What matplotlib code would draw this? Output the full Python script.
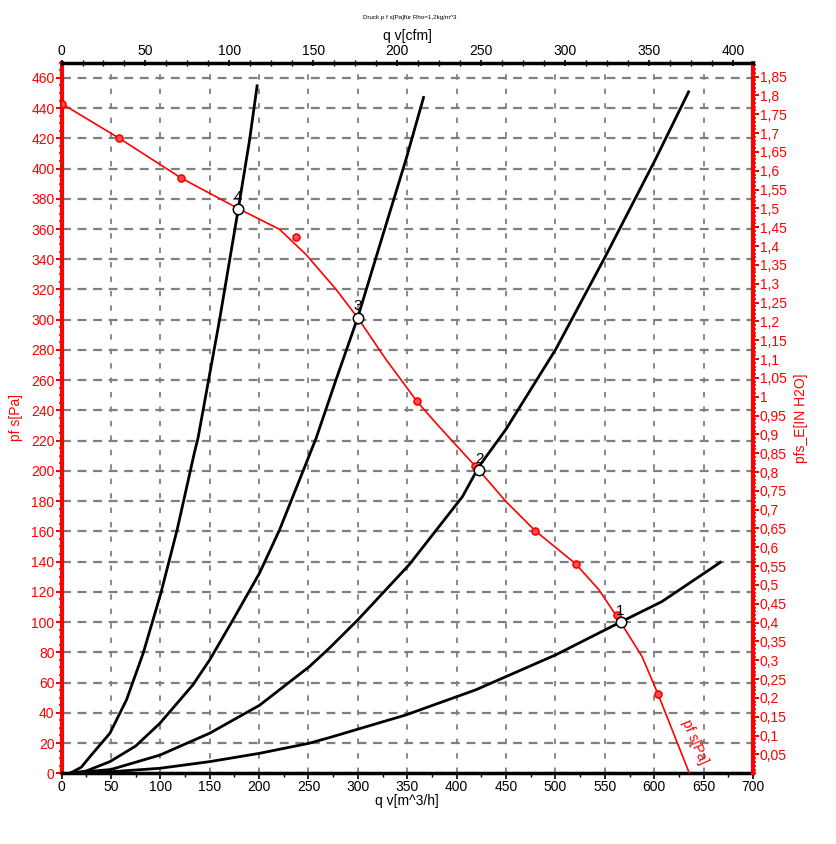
import numpy as np
import matplotlib.pyplot as plt
from matplotlib.ticker import MultipleLocator, FuncFormatter

plt.rcParams['font.family'] = ['Liberation Sans', 'DejaVu Sans']

# fan curve p_fs [Pa] over q_v [m^3/h] (line as drawn)
fan_q = [0, 58.5, 121.4, 179, 220.7, 247.7, 278, 299.8, 328.5, 359.8, 382,
         422.7, 449.7, 479.3, 520.4, 544, 565.9, 587.7, 603.9, 635.6]
fan_p = [443, 420, 393.6, 373.5, 359.8, 343, 320, 301.3, 273.7, 246, 229.5,
         200.4, 179.9, 160.5, 138.6, 121.4, 100, 77.2, 52.3, 0]

# measured points on the fan curve
meas_q = [0, 58.5, 121.4, 237.6, 359.8, 418.7, 479.3, 520.4, 562.4, 603.9]
meas_p = [443, 420, 393.6, 354.7, 246, 203, 160.5, 138.6, 104.8, 52.3]

# system curves
sys4_q = [8.6, 20, 28.8, 49, 65.8, 82.7, 100.5, 117, 134.5, 138.2, 160, 179, 190.4, 198]
sys4_p = [0, 4, 11, 26.5, 48.6, 79.5, 119, 161, 212, 221.8, 300, 373.5, 419, 454.7]
sys3_q = [8.6, 25, 49, 75, 99.5, 133, 150, 173.6, 200.5, 220.7, 247.6, 257.8, 278, 299.8,
          325, 348.7, 366.5]
sys3_p = [0, 1.5, 7.7, 18, 33, 58.5, 75, 101.5, 132.5, 161, 205, 221.8, 260.5, 301.3,
          355.4, 406, 447]
sys2_q = [8.6, 50, 99.5, 150, 200.5, 251, 271.2, 300, 352, 405.9, 422.7, 449.7, 500.2,
          550.7, 601.2, 634.8]
sys2_p = [0, 2.5, 12, 26.5, 45, 70.6, 82.8, 101.5, 138, 183, 203, 227.3, 280.3,
          342, 406, 450.7]
sys1_q = [10, 50, 99.5, 150, 200.5, 251, 271.2, 348.7, 419.4, 500.2, 565.9, 607.9, 666.9]
sys1_p = [0, 1, 3.3, 7.7, 13.2, 19.9, 23.6, 38.6, 55.2, 78.3, 100, 113.6, 139.5]

# operating points
op_q = [565.9, 422.7, 299.8, 179]
op_p = [100, 200.4, 301.3, 373.5]
op_lbl = ['1', '2', '3', '4']

CFM = 1.699
INH2O = 249.089

fig = plt.figure(figsize=(8.36, 8.44), dpi=100)
ax = fig.add_axes([0.0736, 0.0838, 0.9007 - 0.0736, 0.9257 - 0.0838])
ax.set_xlim(0, 700)
ax.set_ylim(0, 470)

ax.xaxis.set_major_locator(MultipleLocator(50))
ax.xaxis.set_minor_locator(MultipleLocator(25))
ax.yaxis.set_major_locator(MultipleLocator(20))
ax.yaxis.set_minor_locator(MultipleLocator(5))
ax.grid(True, which='major', axis='y', color='#7f7f7f', lw=1.6, ls=(0, (4, 3)))
ax.grid(True, which='major', axis='x', color='#7f7f7f', lw=1.3, ls=(0, (3, 5)))
ax.set_axisbelow(True)

for q, p in [(sys1_q, sys1_p), (sys2_q, sys2_p), (sys3_q, sys3_p), (sys4_q, sys4_p)]:
    ax.plot(q, p, color='black', lw=2, zorder=3, solid_joinstyle='round')

ax.plot(fan_q, fan_p, color='red', lw=1.2, zorder=4)
ax.plot(meas_q, meas_p, 'o', ms=5, mfc='#ff5050', mec='red', mew=1.2, zorder=5)
ax.plot(op_q, op_p, 'o', ms=7.5, mfc='white', mec='black', mew=1.1, zorder=6)
for q, p, t in zip(op_q, op_p, op_lbl):
    ax.text(q, p + 3, t, ha='center', va='bottom', fontsize=11, zorder=7)

ax.text(641, 21, 'pf s[Pa]', color='red', fontsize=10, rotation=-67,
        ha='center', va='center', rotation_mode='anchor')

for s in ['top', 'right']:
    ax.spines[s].set_visible(False)
ax.spines['left'].set_color('red')
ax.spines['left'].set_linewidth(3)
ax.spines['bottom'].set_linewidth(2.5)
ax.tick_params(axis='y', which='both', colors='red', labelsize=10, pad=1)
ax.tick_params(axis='y', which='major', length=4, width=1.5)
ax.tick_params(axis='y', which='minor', length=2.5, width=1.2)
ax.tick_params(axis='x', which='major', length=4, width=1.2, labelsize=10, pad=1)
ax.tick_params(axis='x', which='minor', length=3, width=1)
ax.set_xlabel('q v[m^3/h]', fontsize=10, labelpad=0)
ax.set_ylabel('pf s[Pa]', color='red', fontsize=10, labelpad=6)

# right axis in inch H2O
axr = ax.twinx()
axr.set_ylim(0, 470 / INH2O)
axr.set_yticks(np.arange(0.05, 1.851, 0.05))
axr.yaxis.set_minor_locator(MultipleLocator(0.01))
axr.yaxis.set_major_formatter(FuncFormatter(
    lambda v, pos: f"{v:.2f}".rstrip('0').rstrip('.').replace('.', ',')))
for s in ['top', 'left', 'bottom']:
    axr.spines[s].set_visible(False)
axr.spines['right'].set_color('red')
axr.spines['right'].set_linewidth(3)
axr.tick_params(axis='y', which='both', colors='red', labelsize=10, pad=1)
axr.tick_params(axis='y', which='major', length=4, width=1.5)
axr.tick_params(axis='y', which='minor', length=2.5, width=1.2)
axr.set_ylabel('pfs_E[IN H2O]', color='red', fontsize=10, labelpad=5)

# top axis in cfm
axt = ax.twiny()
axt.set_xlim(0, 700 / CFM)
axt.xaxis.set_major_locator(MultipleLocator(50))
axt.xaxis.set_minor_locator(MultipleLocator(12.5))
for s in ['bottom', 'left', 'right']:
    axt.spines[s].set_visible(False)
axt.spines['top'].set_linewidth(2.5)
axt.tick_params(axis='x', which='both', direction='inout')
axt.tick_params(axis='x', which='major', length=5, width=1.2, labelsize=10, pad=1)
axt.tick_params(axis='x', which='minor', length=4, width=1)
axt.set_xlabel('q v[cfm]', fontsize=10, labelpad=3)

fig.text(0.49, 0.979, 'Druck p f s[Pa]für Rho=1,2kg/m^3', fontsize=4.5,
         ha='center', va='center')

fig.savefig('out.png', dpi=100)
